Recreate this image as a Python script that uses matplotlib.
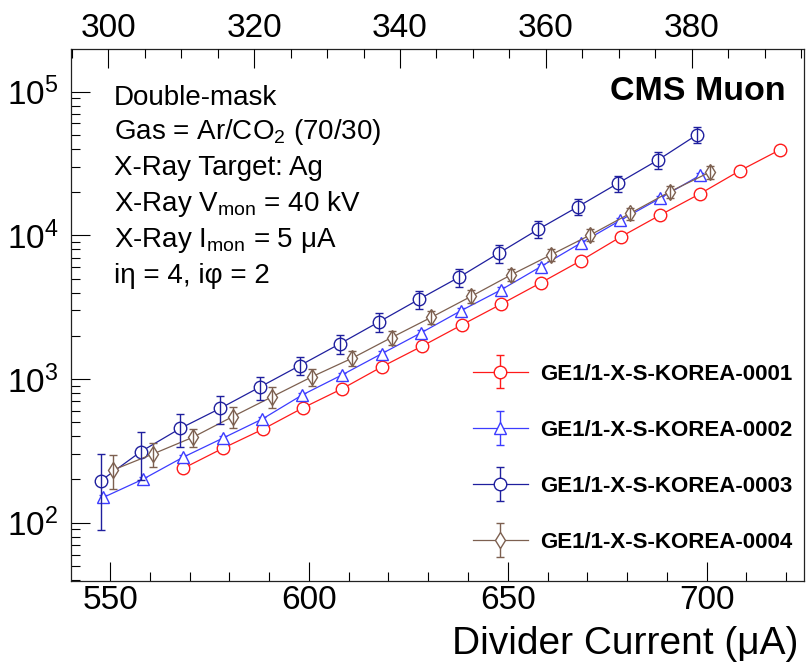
import matplotlib
matplotlib.use("Agg")
import matplotlib.pyplot as plt
from matplotlib.ticker import MultipleLocator, LogLocator, LogFormatterMathtext, NullFormatter
from matplotlib.container import ErrorbarContainer
from matplotlib.legend_handler import HandlerErrorbar

plt.rcParams['font.family'] = ['Liberation Sans', 'DejaVu Sans']
plt.rcParams['mathtext.fontset'] = 'custom'
plt.rcParams['mathtext.rm'] = 'Liberation Sans'
plt.rcParams['mathtext.it'] = 'Liberation Sans:italic'
plt.rcParams['mathtext.bf'] = 'Liberation Sans:bold'
plt.rcParams['mathtext.default'] = 'regular'

# ---------------- data ----------------
labels = ["GE1/1-X-S-KOREA-0001", "GE1/1-X-S-KOREA-0002",
          "GE1/1-X-S-KOREA-0003", "GE1/1-X-S-KOREA-0004"]

x_0001 = [568.4, 578.4, 588.4, 598.4, 608.4, 618.4, 628.4, 638.4,
          648.4, 658.4, 668.4, 678.4, 688.4, 698.4, 708.4, 718.4]
y_0001 = [239, 330, 447, 628, 857, 1219, 1690, 2376,
          3326, 4688, 6668, 9750, 13870, 19500, 28200, 39300]
e_0001 = [9, 12, 16, 22, 30, 43, 59, 83,
          116, 164, 233, 340, 485, 680, 990, 1380]

x_0002 = [548.3, 558.3, 568.3, 578.3, 588.3, 598.3, 608.3, 618.3,
          628.3, 638.3, 648.3, 658.3, 668.3, 678.3, 688.3, 698.3]
y_0002 = [150, 201, 285, 387, 527, 774, 1067, 1500,
          2103, 2994, 4170, 6052, 8810, 12700, 18100, 26100]
e_0002 = [6, 8, 11, 15, 21, 31, 43, 60,
          84, 120, 167, 242, 352, 508, 724, 1040]

x_0003 = [547.7, 557.7, 567.7, 577.7, 587.7, 597.7, 607.7, 617.7,
          627.7, 637.7, 647.7, 657.7, 667.7, 677.7, 687.7, 697.7]
y_0003 = [196, 312, 454, 625, 880, 1240, 1754, 2506,
          3589, 5100, 7500, 11020, 15850, 23000, 33300, 50300]
e_0003 = [107, 114, 117, 141, 160, 175, 260, 390,
          540, 760, 1050, 1500, 2100, 3000, 4400, 6700]

x_0004 = [550.8, 560.8, 570.8, 580.8, 590.8, 600.8, 610.8, 620.8,
          630.8, 640.8, 650.8, 660.8, 670.8, 680.8, 690.8, 700.8]
y_0004 = [233, 301, 393, 547, 754, 1038, 1393, 1945,
          2690, 3760, 5300, 7300, 10070, 14220, 20130, 27500]
e_0004 = [62, 57, 54, 91, 128, 140, 165, 215,
          280, 380, 510, 690, 950, 1350, 2000, 2900]

series = [
    (x_0001, y_0001, e_0001, '#ff1a1a', 'o', 9.0, False),
    (x_0002, y_0002, e_0002, '#3c3cff', '^', 9.0, False),
    (x_0003, y_0003, e_0003, '#1f1f9e', 'o', 9.0, True),
    (x_0004, y_0004, e_0004, '#7d6050', 'd', 8.5, True),
]

info_lines = ["Double-mask",
              r"Gas = Ar/CO$_{2}$ (70/30)",
              "X-Ray Target: Ag",
              r"X-Ray V$_{mon}$ = 40 kV",
              r"X-Ray I$_{mon}$ = 5 μA",
              "iη = 4, iφ = 2"]

# ---------------- figure ----------------
W, H = 808, 668
fig = plt.figure(figsize=(W / 100, H / 100), dpi=100)
L, R, T, B = 70.7, 804.0, 49.3, 580.7
ax = fig.add_axes([L / W, 1 - B / H, (R - L) / W, (B - T) / H])

handles = []
for (xs, ys, es, col, mk, ms, bars_on_top), lab in zip(series, labels):
    cont = ax.errorbar(xs, ys, yerr=es, color=col, marker=mk, markersize=ms,
                       mfc='white', mec=col, mew=1.0, lw=0.9, elinewidth=1.0,
                       capsize=2.6, capthick=1.0, label=lab, zorder=3)
    if bars_on_top:
        for c in cont[1]:
            c.set_zorder(4)
        for c in cont[2]:
            c.set_zorder(4)
    else:
        for c in cont[1]:
            c.set_zorder(2)
        for c in cont[2]:
            c.set_zorder(2)
    handles.append(cont)

ax.set_yscale('log')
ax.set_xlim(540.1, 724.5)
ax.set_ylim(39.5, 1.97e5)

ax.xaxis.set_major_locator(MultipleLocator(50))
ax.xaxis.set_minor_locator(MultipleLocator(10))
ax.yaxis.set_major_locator(LogLocator(base=10, numticks=10))
ax.yaxis.set_minor_locator(LogLocator(base=10, subs=range(2, 10), numticks=20))
ax.yaxis.set_major_formatter(LogFormatterMathtext())
ax.yaxis.set_minor_formatter(NullFormatter())

ax.tick_params(which='both', direction='in', top=False, right=False,
               colors='black', width=0.8)
ax.tick_params(which='major', length=13.5)
ax.tick_params(which='minor', length=6.5)
ax.tick_params(axis='x', which='major', labelsize=24, pad=3)
ax.tick_params(axis='y', which='major', labelsize=24, pad=9)

for sp in ax.spines.values():
    sp.set_linewidth(0.9)
    sp.set_color('#222222')

# top axis
ax2 = ax.twiny()
ax2.set_xlim(294.84, 395.4)
ax2.xaxis.set_major_locator(MultipleLocator(20))
ax2.xaxis.set_minor_locator(MultipleLocator(5))
ax2.tick_params(which='both', direction='in', width=0.8)
ax2.tick_params(which='major', length=13.5, labelsize=24, pad=4)
ax2.tick_params(which='minor', length=6.5)
for sp in ax2.spines.values():
    sp.set_visible(False)

# x label
fig.text(798 / W, 1 - 654 / H, "Divider Current (μA)", ha='right', va='baseline',
         fontsize=28)

# CMS Muon
fig.text(786 / W, 1 - 100 / H, "CMS Muon", ha='right', va='baseline',
         fontsize=24.5, fontweight='bold')

# info text
baselines = [105, 139, 175, 211, 247, 283]
for txt, yb in zip(info_lines, baselines):
    fig.text(113.5 / W, 1 - yb / H, txt, ha='left', va='baseline', fontsize=20)

leg = ax.legend(handles, labels, loc='upper left',
                bbox_to_anchor=(472.7 / W, 1 - 363.5 / H),
                bbox_transform=fig.transFigure, frameon=False,
                prop={'weight': 'bold', 'size': 16},
                handlelength=2.5, handletextpad=0.55, labelspacing=1.58,
                borderpad=0, borderaxespad=0, numpoints=1,
                handler_map={ErrorbarContainer: HandlerErrorbar(yerr_size=0.75)})

fig.savefig("out.png", dpi=100)
